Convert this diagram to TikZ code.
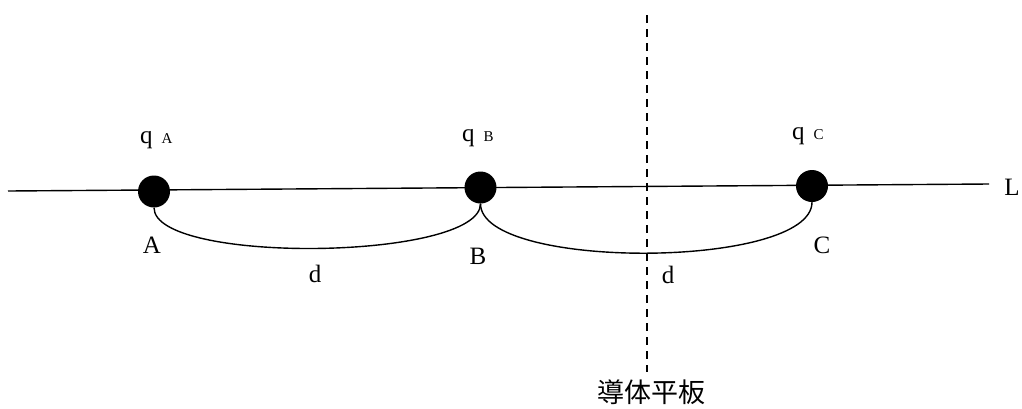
\documentclass[tikz,border=0pt]{standalone}
\usepackage{fontspec}
\setmainfont{Liberation Serif}
\newfontfamily\cjk{Noto Sans CJK JP}
\begin{document}
\begin{tikzpicture}[x=1pt,y=-1pt,
  charge/.style={circle,fill=black,minimum size=32pt,inner sep=0pt},
  lbl/.style={font=\fontsize{25}{28}\selectfont,inner sep=0pt,anchor=base},
  qlbl/.style={font=\fontsize{25}{28}\selectfont,inner sep=0pt,anchor=base west},
  link/.style={line width=1.4pt},
  plate/.style={dash pattern=on 8pt off 6pt,line width=1.4pt}]
\useasboundingbox (0,0) rectangle (1022,408);
% plate
\coordinate (Pt) at (647,15);
\coordinate (Pb) at (647,372);
\draw[plate] (Pt) -- (Pb);
\node[font=\cjk\fontsize{27}{30}\selectfont,inner sep=0pt] (plabel) at (651,392.5) {導体平板};
% line L
\coordinate (Ls) at (8,191);
\coordinate (Le) at (989,184);
\draw[link] (Ls) -- (Le);
\node[lbl] (L) at (1012,195) {L};
% charges
\node[charge] (dA) at (154,191.5) {};
\node[charge] (dB) at (480.5,187.5) {};
\node[charge] (dC) at (812,186) {};
% arcs
\draw[link] (dA.south) .. controls +(0,57) and +(0,57) .. (dB.south);
\draw[link] (dB.south) .. controls +(0,67) and +(0,67) .. (dC.south);
% labels
\node[qlbl] (qA) at (140,143) {q\hspace{9pt}{\fontsize{15}{15}\selectfont A}};
\node[qlbl] (qB) at (462,141) {q\hspace{9pt}{\fontsize{15}{15}\selectfont B}};
\node[qlbl] (qC) at (792,139) {q\hspace{9pt}{\fontsize{15}{15}\selectfont C}};
\node[lbl] (lA) at (152,253) {A};
\node[lbl] (lB) at (478,264) {B};
\node[lbl] (lC) at (822,253) {C};
\node[lbl] (d1) at (315,282) {d};
\node[lbl] (d2) at (668,283) {d};
\end{tikzpicture}
\end{document}
